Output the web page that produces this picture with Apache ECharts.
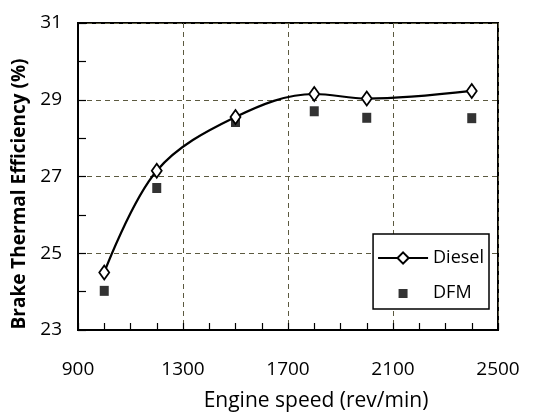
<!DOCTYPE html>
<html>
<head>
<meta charset="utf-8">
<script src="https://cdn.jsdelivr.net/npm/echarts@6/dist/echarts.min.js"></script>
<style>
  html, body { margin: 0; padding: 0; background: #fff; }
  #main { width: 535px; height: 415px; }
</style>
</head>
<body>
<div id="main"></div>
<script>
// engine speed (rev/min)
const speeds = [1000, 1200, 1500, 1800, 2000, 2400];
// brake thermal efficiency (%)
const dieselBTE = [24.5, 27.15, 28.55, 29.15, 29.03, 29.23];
const dfmBTE = [24.02, 26.7, 28.42, 28.7, 28.53, 28.52];

const font = '"Open Sans", sans-serif';
const gridColor = '#5c5a40';

const pairs = (xs, ys) => xs.map((x, i) => [x, ys[i]]);

// small square centred in a 50x14 legend box
const dfmIcon = 'path://M0,0L0.01,0M20.5,3h9v9h-9zM49.99,14L50,14';

const chart = echarts.init(document.getElementById('main'));
const option = {
  backgroundColor: '#ffffff',
  animation: false,
  textStyle: { fontFamily: font },
  grid: {
    left: 78, right: 37, top: 23, bottom: 85,
    outerBoundsMode: 'none',
    containLabel: false,
    show: true, borderColor: '#000', borderWidth: 2
  },
  // y axis title sits a bit below the middle of the axis in the original
  graphic: [{
    type: 'text',
    x: 20, y: 194,
    rotation: Math.PI / 2,
    style: {
      text: 'Brake Thermal Efficiency (%)',
      font: 'bold 19px "Open Sans", sans-serif',
      fill: '#000',
      align: 'center',
      verticalAlign: 'middle'
    }
  }],
  legend: {
    orient: 'vertical',
    right: 46, top: 234,
    padding: [15, 5, 7, 4],
    itemWidth: 50, itemHeight: 14,
    itemGap: 17,
    borderColor: '#000', borderWidth: 1.5,
    backgroundColor: '#fff',
    textStyle: { fontSize: 18, color: '#000', fontFamily: font },
    data: [{ name: 'Diesel' }, { name: 'DFM', icon: dfmIcon }]
  },
  xAxis: [
    {
      type: 'value',
      min: 900, max: 2500, interval: 400,
      name: 'Engine speed (rev/min)',
      nameLocation: 'middle', nameGap: 61,
      nameTextStyle: { fontSize: 21, color: '#000', padding: [0, 0, 0, 56] },
      axisLine: { lineStyle: { color: '#000', width: 2 } },
      axisTick: { show: false },
      axisLabel: { fontSize: 19, color: '#000', margin: 30, formatter: v => String(v) },
      splitLine: { show: true, lineStyle: { color: gridColor, type: [5, 4], width: 1 } }
    },
    {
      // minor ticks every 100
      type: 'value', position: 'bottom',
      min: 900, max: 2500, interval: 100,
      axisLine: { show: false },
      axisTick: { inside: true, length: 7, lineStyle: { color: '#000', width: 1.2 } },
      axisLabel: { show: false },
      splitLine: { show: false }
    }
  ],
  yAxis: [
    {
      type: 'value',
      min: 23, max: 31, interval: 2,
      axisLine: { lineStyle: { color: '#000', width: 2 } },
      axisTick: { show: false },
      axisLabel: { fontSize: 19, color: '#000', margin: 16 },
      splitLine: { show: true, lineStyle: { color: gridColor, type: [5, 4], width: 1 } }
    },
    {
      // ticks every 1 %
      type: 'value', position: 'left',
      min: 23, max: 31, interval: 1,
      axisLine: { show: false },
      axisTick: { inside: true, length: 8, lineStyle: { color: '#000', width: 1.2 } },
      axisLabel: { show: false },
      splitLine: { show: false }
    }
  ],
  series: [
    {
      name: 'DFM',
      type: 'scatter',
      symbol: 'rect',
      symbolSize: [9, 10],
      itemStyle: { color: '#000' },
      data: pairs(speeds, dfmBTE),
      z: 2
    },
    {
      name: 'Diesel',
      type: 'line',
      smooth: 0.35,
      symbol: 'diamond',
      symbolSize: [10, 14],
      itemStyle: { color: '#fff', borderColor: '#000', borderWidth: 1.8 },
      lineStyle: { color: '#000', width: 2.2 },
      data: pairs(speeds, dieselBTE),
      z: 3
    }
  ]
};
chart.setOption(option);
window.onresize = function () {
  chart.resize();
};
</script>
</body>
</html>
